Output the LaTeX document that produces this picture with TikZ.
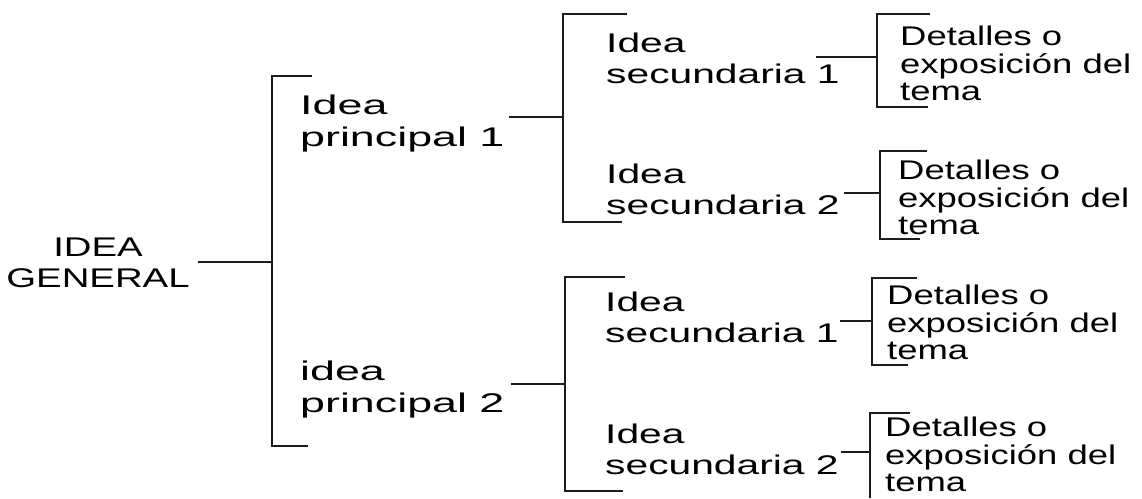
\documentclass[tikz,border=0pt]{standalone}
\usepackage{fontspec}
\usepackage{tikz}
\usetikzlibrary{calc}
\newfontfamily\mapafont[FakeStretch=1.42]{Liberation Sans}
\newfontfamily\princfont[FakeStretch=1.66]{Liberation Sans}
\newfontfamily\secfont[FakeStretch=1.51]{Liberation Sans}
\newfontfamily\detfont[FakeStretch=1.35]{Liberation Sans}
\definecolor{mink}{HTML}{1C1C1C}

\begin{document}
\begin{tikzpicture}[x=1pt,y=-1pt,
  every node/.style={inner sep=0pt,text=black,font=\mapafont\fontsize{27}{31}\selectfont},
  idea/.style={anchor=north west,align=left},
  principal/.style={idea,font=\princfont\fontsize{27}{32}\selectfont},
  secundaria/.style={idea,font=\secfont\fontsize{27}{30.5}\selectfont},
  detalle/.style={idea,font=\detfont\fontsize{27}{27.5}\selectfont},
  trazo/.style={draw=mink,line width=1.3pt}]
  \useasboundingbox (0,0) rectangle (1142,498);

  % textos
  \node[anchor=north,align=center] (gen) at (98,238) {IDEA\\GENERAL};
  \node[principal] (p1) at (300,95) {Idea\\principal 1};
  \node[principal] (p2) at (300,361) {idea\\principal 2};
  \node[secundaria] (s11) at (606,33) {Idea\\secundaria 1};
  \node[secundaria] (s12) at (606,164) {Idea\\secundaria 2};
  \node[secundaria] (s21) at (605,292) {Idea\\secundaria 1};
  \node[secundaria] (s22) at (605,424) {Idea\\secundaria 2};
  \node[detalle] (d11) at (900,26) {Detalles o\\exposición del\\tema};
  \node[detalle] (d12) at (898,160) {Detalles o\\exposición del\\tema};
  \node[detalle] (d21) at (887,285) {Detalles o\\exposición del\\tema};
  \node[detalle] (d22) at (885,417) {Detalles o\\exposición del\\tema};

  % llaves
  \draw[trazo] (312,76) -- (272,76) -- (272,446) -- (308,446);
  \coordinate (gm) at (272,262);
  \draw[trazo] (627,14) -- (563,14) -- (563,222) -- (622,222);
  \coordinate (b1m) at (563,117);
  \draw[trazo] (625,277) -- (565,277) -- (565,491) -- (623,491);
  \coordinate (b2m) at (565,384);
  \draw[trazo] (930,14) -- (877,14) -- (877,107) -- (928,107);
  \coordinate (c11m) at (877,57);
  \draw[trazo] (927,151) -- (880,151) -- (880,239) -- (920,239);
  \coordinate (c12m) at (880,193);
  \draw[trazo] (917,278) -- (872,278) -- (872,365) -- (908,365);
  \coordinate (c21m) at (872,321);
  \draw[trazo] (910,413) -- (870,413) -- (870,498);
  \coordinate (c22m) at (870,452);

  % ramas
  \draw[trazo] ($(gen.east |- gm)+(8,0)$) -- (gm);
  \draw[trazo] ($(p1.east |- b1m)+(4,0)$) -- (b1m);
  \draw[trazo] ($(p2.east |- b2m)+(6,0)$) -- (b2m);
  \draw[trazo] ($(s11.east |- c11m)+(-24,0)$) -- (c11m);
  \draw[trazo] ($(s12.east |- c12m)+(4,0)$) -- (c12m);
  \draw[trazo] ($(s21.east |- c21m)+(1,0)$) -- (c21m);
  \draw[trazo] ($(s22.east |- c22m)+(2,0)$) -- (c22m);
\end{tikzpicture}
\end{document}
